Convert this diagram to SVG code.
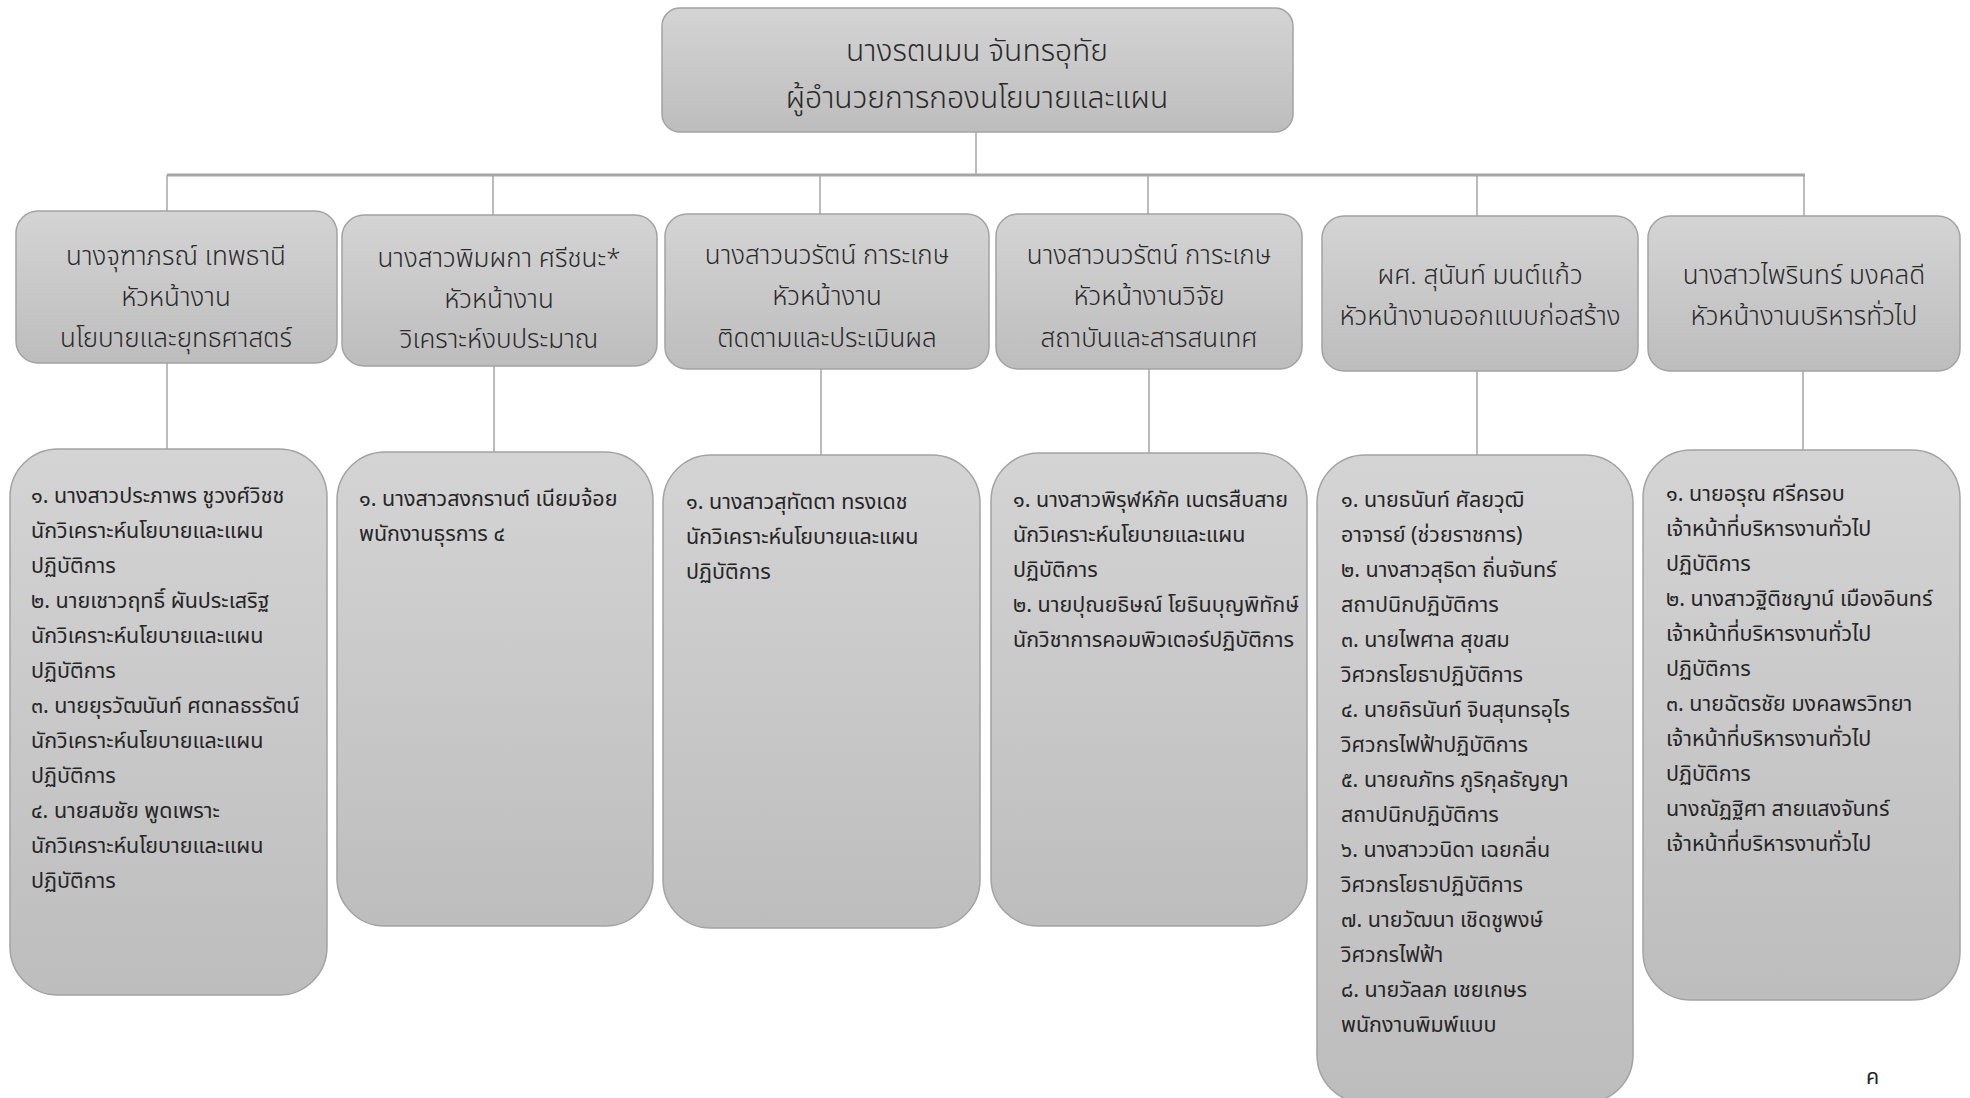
<svg xmlns="http://www.w3.org/2000/svg" width="1970" height="1098" viewBox="0 0 1970 1098">
<defs>
<linearGradient id="g" x1="0" y1="0" x2="0" y2="1">
<stop offset="0" stop-color="#d4d4d4"/>
<stop offset="1" stop-color="#bdbdbd"/>
</linearGradient>
<style>
.box{fill:url(#g);stroke:#a3a3a3;stroke-width:1.5}
.ln{stroke:#a6a6a6;stroke-width:1.5;fill:none}
.hl{stroke:#a6a6a6;stroke-width:3;fill:none}
.h{font-family:"Noto Sans Thai","Noto Sans","DejaVu Sans",sans-serif;font-size:26px;font-weight:300;fill:#2a2a2a;text-anchor:middle}
.t{font-family:"Noto Sans Thai","Noto Sans","DejaVu Sans",sans-serif;font-size:30px;font-weight:300;fill:#2a2a2a;text-anchor:middle}
.l{font-family:"Noto Sans Thai","Noto Sans","DejaVu Sans",sans-serif;font-size:21.5px;fill:#262626}
</style>
</defs>
<rect width="1970" height="1098" fill="#fff"/>
<g id="connectors">
<line class="ln" x1="976" y1="132" x2="976" y2="175"/>
<line class="hl" x1="167" y1="175" x2="1805" y2="175"/>
<line class="ln" x1="167" y1="175" x2="167" y2="211"/>
<line class="ln" x1="493" y1="175" x2="493" y2="215"/>
<line class="ln" x1="820" y1="175" x2="820" y2="214"/>
<line class="ln" x1="1148" y1="175" x2="1148" y2="214"/>
<line class="ln" x1="1477" y1="175" x2="1477" y2="216"/>
<line class="ln" x1="1804" y1="175" x2="1804" y2="216"/>
<line class="ln" x1="167" y1="363" x2="167" y2="449"/>
<line class="ln" x1="494" y1="366" x2="494" y2="452"/>
<line class="ln" x1="821" y1="369" x2="821" y2="455"/>
<line class="ln" x1="1149" y1="369" x2="1149" y2="453"/>
<line class="ln" x1="1477" y1="371" x2="1477" y2="455"/>
<line class="ln" x1="1803" y1="371" x2="1803" y2="450"/>
</g>
<g id="director">
<rect class="box" x="662" y="8" width="631" height="124" rx="18"/>
<text class="t" x="977" y="61">นางรตนมน จันทรอุทัย</text>
<text class="t" x="977" y="108">ผู้อำนวยการกองนโยบายและแผน</text>
</g>
<g id="head1">
<rect class="box" x="16" y="211" width="321" height="152" rx="22"/>
<text class="h" x="176" y="265">นางจุฑาภรณ์ เทพธานี</text>
<text class="h" x="176" y="306">หัวหน้างาน</text>
<text class="h" x="176" y="347">นโยบายและยุทธศาสตร์</text>
</g>
<g id="head2">
<rect class="box" x="342" y="215" width="315" height="151" rx="22"/>
<text class="h" x="499" y="267">นางสาวพิมผกา ศรีชนะ*</text>
<text class="h" x="499" y="308">หัวหน้างาน</text>
<text class="h" x="499" y="348">วิเคราะห์งบประมาณ</text>
</g>
<g id="head3">
<rect class="box" x="665" y="214" width="324" height="155" rx="22"/>
<text class="h" x="827" y="264">นางสาวนวรัตน์ การะเกษ</text>
<text class="h" x="827" y="305">หัวหน้างาน</text>
<text class="h" x="827" y="347">ติดตามและประเมินผล</text>
</g>
<g id="head4">
<rect class="box" x="996" y="214" width="306" height="155" rx="22"/>
<text class="h" x="1149" y="264">นางสาวนวรัตน์ การะเกษ</text>
<text class="h" x="1149" y="305">หัวหน้างานวิจัย</text>
<text class="h" x="1149" y="347">สถาบันและสารสนเทศ</text>
</g>
<g id="head5">
<rect class="box" x="1322" y="216" width="316" height="155" rx="22"/>
<text class="h" x="1480" y="284">ผศ. สุนันท์ มนต์แก้ว</text>
<text class="h" x="1480" y="325">หัวหน้างานออกแบบก่อสร้าง</text>
</g>
<g id="head6">
<rect class="box" x="1648" y="216" width="312" height="155" rx="22"/>
<text class="h" x="1804" y="284">นางสาวไพรินทร์ มงคลดี</text>
<text class="h" x="1804" y="325">หัวหน้างานบริหารทั่วไป</text>
</g>
<g id="staff1">
<rect class="box" x="10" y="449" width="317" height="546" rx="48"/>
<text class="l" x="31" y="503">๑. นางสาวประภาพร ชูวงศ์วิชช</text>
<text class="l" x="31" y="538">นักวิเคราะห์นโยบายและแผน</text>
<text class="l" x="31" y="573">ปฏิบัติการ</text>
<text class="l" x="31" y="608">๒. นายเชาวฤทธิ์ ผันประเสริฐ</text>
<text class="l" x="31" y="643">นักวิเคราะห์นโยบายและแผน</text>
<text class="l" x="31" y="678">ปฏิบัติการ</text>
<text class="l" x="31" y="713">๓. นายยุรวัฒนันท์ ศตทลธรรัตน์</text>
<text class="l" x="31" y="748">นักวิเคราะห์นโยบายและแผน</text>
<text class="l" x="31" y="783">ปฏิบัติการ</text>
<text class="l" x="31" y="818">๔. นายสมชัย พูดเพราะ</text>
<text class="l" x="31" y="853">นักวิเคราะห์นโยบายและแผน</text>
<text class="l" x="31" y="888">ปฏิบัติการ</text>
</g>
<g id="staff2">
<rect class="box" x="337" y="452" width="316" height="474" rx="48"/>
<text class="l" x="359" y="506">๑. นางสาวสงกรานต์ เนียมจ้อย</text>
<text class="l" x="359" y="541">พนักงานธุรการ ๔</text>
</g>
<g id="staff3">
<rect class="box" x="663" y="455" width="317" height="473" rx="48"/>
<text class="l" x="686" y="509">๑. นางสาวสุทัตตา ทรงเดช</text>
<text class="l" x="686" y="544">นักวิเคราะห์นโยบายและแผน</text>
<text class="l" x="686" y="579">ปฏิบัติการ</text>
</g>
<g id="staff4">
<rect class="box" x="991" y="453" width="316" height="473" rx="48"/>
<text class="l" x="1013" y="507">๑. นางสาวพิรุฬห์ภัค เนตรสืบสาย</text>
<text class="l" x="1013" y="542">นักวิเคราะห์นโยบายและแผน</text>
<text class="l" x="1013" y="577">ปฏิบัติการ</text>
<text class="l" x="1013" y="612">๒. นายปุณยธิษณ์ โยธินบุญพิทักษ์</text>
<text class="l" x="1013" y="647">นักวิชาการคอมพิวเตอร์ปฏิบัติการ</text>
</g>
<g id="staff5">
<rect class="box" x="1317" y="455" width="316" height="648" rx="48"/>
<text class="l" x="1341" y="507">๑. นายธนันท์ ศัลยวุฒิ</text>
<text class="l" x="1341" y="542">อาจารย์ (ช่วยราชการ)</text>
<text class="l" x="1341" y="577">๒. นางสาวสุธิดา ถิ่นจันทร์</text>
<text class="l" x="1341" y="612">สถาปนิกปฏิบัติการ</text>
<text class="l" x="1341" y="647">๓. นายไพศาล สุขสม</text>
<text class="l" x="1341" y="682">วิศวกรโยธาปฏิบัติการ</text>
<text class="l" x="1341" y="717">๔. นายถิรนันท์ จินสุนทรอุไร</text>
<text class="l" x="1341" y="752">วิศวกรไฟฟ้าปฏิบัติการ</text>
<text class="l" x="1341" y="787">๕. นายณภัทร ภูริกุลธัญญา</text>
<text class="l" x="1341" y="822">สถาปนิกปฏิบัติการ</text>
<text class="l" x="1341" y="857">๖. นางสาววนิดา เฉยกลิ่น</text>
<text class="l" x="1341" y="892">วิศวกรโยธาปฏิบัติการ</text>
<text class="l" x="1341" y="927">๗. นายวัฒนา เชิดชูพงษ์</text>
<text class="l" x="1341" y="962">วิศวกรไฟฟ้า</text>
<text class="l" x="1341" y="997">๘. นายวัลลภ เชยเกษร</text>
<text class="l" x="1341" y="1032">พนักงานพิมพ์แบบ</text>
</g>
<g id="staff6">
<rect class="box" x="1643" y="450" width="317" height="550" rx="48"/>
<text class="l" x="1666" y="501">๑. นายอรุณ ศรีครอบ</text>
<text class="l" x="1666" y="536">เจ้าหน้าที่บริหารงานทั่วไป</text>
<text class="l" x="1666" y="571">ปฏิบัติการ</text>
<text class="l" x="1666" y="606">๒. นางสาวฐิติชญาน์ เมืองอินทร์</text>
<text class="l" x="1666" y="641">เจ้าหน้าที่บริหารงานทั่วไป</text>
<text class="l" x="1666" y="676">ปฏิบัติการ</text>
<text class="l" x="1666" y="711">๓. นายฉัตรชัย มงคลพรวิทยา</text>
<text class="l" x="1666" y="746">เจ้าหน้าที่บริหารงานทั่วไป</text>
<text class="l" x="1666" y="781">ปฏิบัติการ</text>
<text class="l" x="1666" y="816">นางณัฏฐิศา สายแสงจันทร์</text>
<text class="l" x="1666" y="851">เจ้าหน้าที่บริหารงานทั่วไป</text>
</g>
<text class="l" x="1866" y="1084" font-size="24">ค</text>
</svg>
